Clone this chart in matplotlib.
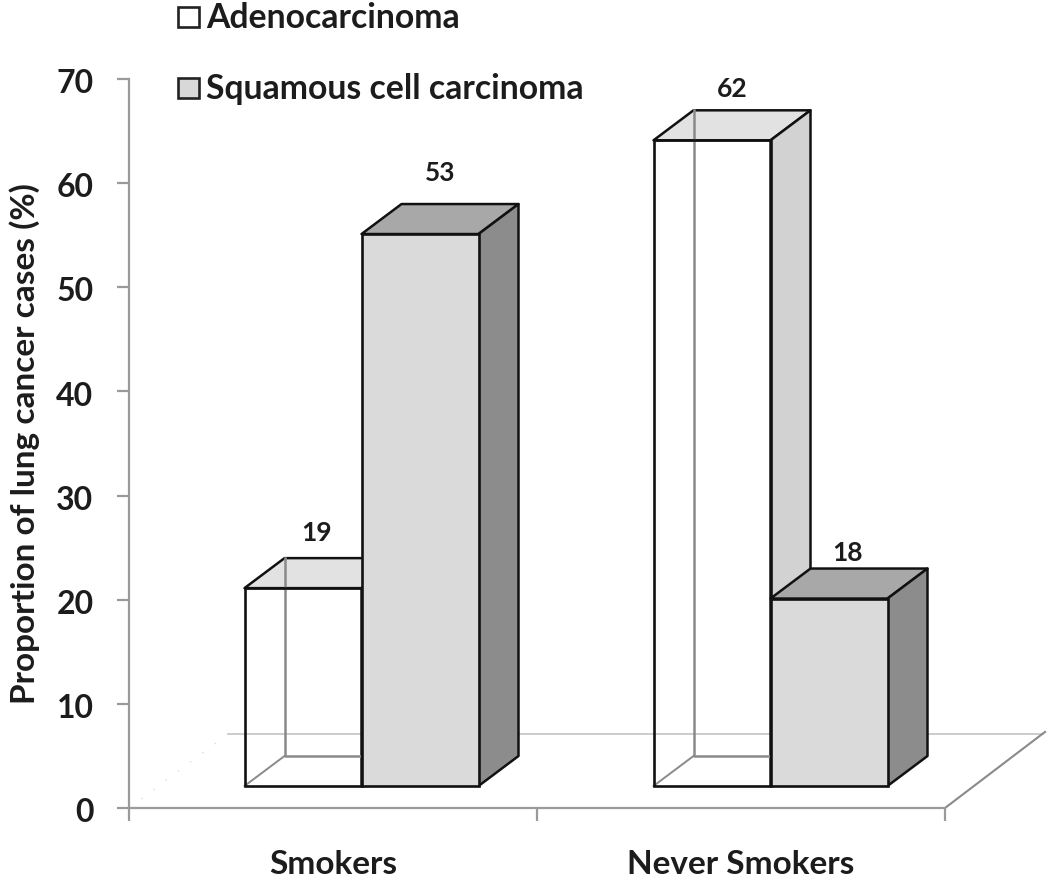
import matplotlib
matplotlib.use("Agg")
import matplotlib.pyplot as plt
from matplotlib.patches import Polygon, Rectangle
from matplotlib.transforms import ScaledTranslation

categories = ["Smokers", "Never Smokers"]
series_names = ["Adenocarcinoma", "Squamous cell carcinoma"]
adeno = [19, 62]
squamous = [53, 18]
yticks = [0, 10, 20, 30, 40, 50, 60, 70]

W, H = 1050, 880
L, R, T, B = 129, 945, 79, 808
plt.rcParams['font.family'] = ['Lato', 'DejaVu Sans']
fig = plt.figure(figsize=(W / 100, H / 100), dpi=100, facecolor='white')
ax = fig.add_axes([L / W, 1 - B / H, (R - L) / W, (B - T) / H])
ax.set_xlim(-0.5, 1.5)
ax.set_ylim(0, 70)
ax.patch.set_alpha(0)

ux = (R - L) / 2
uy = (B - T) / 70
DX, DY = 40 / ux, 30 / uy
BW = 117 / ux
BASE = 22 / uy
SHIFT = [28.5 / ux, 29.5 / ux]
EDGE, BACK = '#111111', '#8a8a8a'
AXC = '#9a9a9a'
TXT = '#1c1c1c'

for s in ['top', 'right']:
    ax.spines[s].set_visible(False)
for s in ['left', 'bottom']:
    ax.spines[s].set_color(AXC)
    ax.spines[s].set_linewidth(1.6)
ax.set_yticks(yticks)
ax.set_xticks([-0.5, 0.5, 1.5])
ax.set_xticklabels([])
ax.set_xticks([0, 1], minor=True)
ax.set_xticklabels(categories, minor=True, fontsize=24, fontweight='bold', color=TXT)
ax.tick_params(axis='x', which='minor', length=0, pad=30)
ax.tick_params(axis='x', which='major', length=9, width=1.6, color=AXC)
ax.tick_params(axis='y', length=8.6, width=1.6, color=AXC, pad=17)
for t in ax.get_yticklabels():
    t.set_fontsize(23)
    t.set_fontweight('bold')
    t.set_color(TXT)
    t.set_transform(t.get_transform() + ScaledTranslation(0, -1.5 / 72, fig.dpi_scale_trans))
ax.set_ylabel("Proportion of lung cancer cases (%)", fontsize=24, fontweight='bold',
              color=TXT, labelpad=12)

# floor of the 3-D scene
floor_y = (B - 734) / uy
ax.plot([-0.5 + 99 / ux, 1.5 + 98 / ux], [floor_y, floor_y], color='#c8c8c8', lw=1.3,
        clip_on=False, zorder=1)
ax.plot([1.5, 1.5 + 100 / ux], [0, floor_y + 0.2], color='#8a8a8a', lw=1.5, clip_on=False, zorder=1)
ax.plot([-0.5, -0.5 + 99 / ux], [0, floor_y], color='#dddddd', lw=1, ls=(0, (1, 10)),
        clip_on=False, zorder=1)


def poly(pts, fc, z):
    ax.add_patch(Polygon(pts, closed=True, facecolor=fc, edgecolor=EDGE, lw=1.8,
                         joinstyle='round', clip_on=False, zorder=z))


def box(x0, val, front, top, side, z):
    y0, y1 = BASE, BASE + val
    x1 = x0 + BW
    poly([(x0, y1), (x1, y1), (x1 + DX, y1 + DY), (x0 + DX, y1 + DY)], top, z)
    poly([(x1, y0), (x1 + DX, y0 + DY), (x1 + DX, y1 + DY), (x1, y1)], side, z)
    if front == 'none':
        # inner back edges seen through the open bar
        ax.plot([x0 + DX, x0 + DX, x1], [y1 + DY, y0 + DY, y0 + DY], color=BACK, lw=1.8,
                zorder=z + 0.2, clip_on=False)
        ax.plot([x0, x0 + DX], [y0, y0 + DY], color=BACK, lw=1.4, zorder=z + 0.2, clip_on=False)
    ax.add_patch(Rectangle((x0, y0), BW, val, facecolor=front, edgecolor=EDGE, lw=1.9,
                           fill=front != 'none', clip_on=False, zorder=z + 0.4))


for i in range(2):
    c = i + SHIFT[i]
    box(c - BW, adeno[i], 'none', '#e2e2e2', '#d2d2d2', 3)
    box(c, squamous[i], '#dadada', '#a8a8a8', '#8c8c8c', 4)

label_dx = [[-6, 0], [0, -2]]
adeno_label_off = [25, 21]
squam_label_off = [31, 16]
for i in range(2):
    c = i + SHIFT[i]
    rows = [(c - BW, adeno[i], adeno_label_off[i], label_dx[0][i]),
            (c, squamous[i], squam_label_off[i], label_dx[1][i])]
    for x0, v, off, dx in rows:
        ax.annotate(str(v), (x0 + BW / 2 + DX / 2, BASE + v + DY), xytext=(dx * 0.72, off * 0.72),
                    textcoords='offset points', ha='center', va='center', fontsize=19,
                    fontweight='bold', color=TXT, annotation_clip=False, zorder=6)

# legend
legend_fc = ['white', '#d8d8d8']
legend_top = [7, 78]
for name, fc, top in zip(series_names, legend_fc, legend_top):
    fig.add_artist(Rectangle((177.5 / W, 1 - (top + 20) / H), 21 / W, 20 / H, facecolor=fc,
                             edgecolor='#222222', lw=1.9, transform=fig.transFigure))
    fig.text(206 / W, 1 - (top + 21) / H, name, fontsize=24.3, fontweight='bold', color=TXT,
             ha='left', va='baseline')

fig.savefig('out.png', dpi=100, facecolor='white')
